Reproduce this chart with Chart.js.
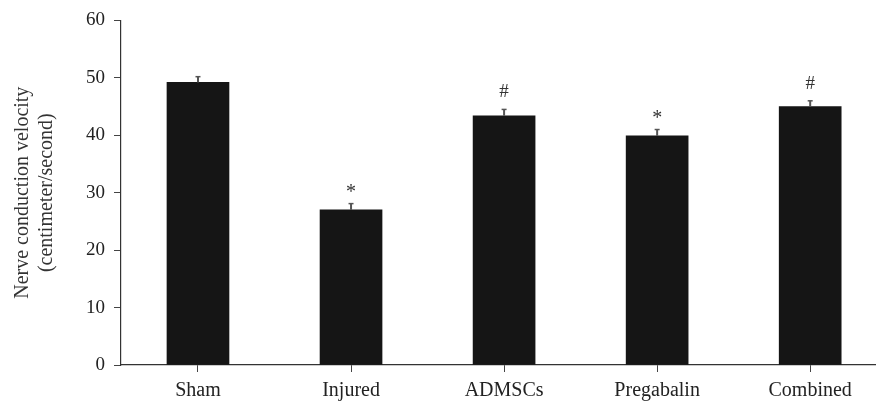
<!DOCTYPE html>
<html>
<head>
<meta charset="utf-8">
<script src="https://cdn.jsdelivr.net/npm/chart.js@4"></script>
<style>
  html, body { margin: 0; padding: 0; background: #fff; }
  #wrap { width: 876px; height: 402px; }
</style>
</head>
<body>
<div id="wrap"><canvas id="ncv"></canvas></div>
<script>
var groups = ["Sham", "Injured", "ADMSCs", "Pregabalin", "Combined"];
var velocity = [49.2, 27.0, 43.4, 39.9, 45.0];
var velocityErr = [1.0, 1.1, 1.1, 1.1, 1.0];
var marks = ["", "*", "#", "*", "#"];
var yTicks = [0, 10, 20, 30, 40, 50, 60];

var points = [];
for (var i = 0; i < groups.length; i++) {
  points.push({ x: i, y: velocity[i] });
}

var fontFam = "'Liberation Serif', 'DejaVu Serif', serif";

// upward error bars plus significance marks
var errorBars = {
  id: 'errorBars',
  afterDatasetsDraw: function(chart) {
    var ctx = chart.ctx;
    var y = chart.scales.y;
    var meta = chart.getDatasetMeta(0);
    ctx.save();
    for (var i = 0; i < meta.data.length; i++) {
      var bar = meta.data[i];
      var top = y.getPixelForValue(velocity[i] + velocityErr[i]);
      ctx.strokeStyle = '#555';
      ctx.lineWidth = 2;
      ctx.beginPath();
      ctx.moveTo(bar.x, bar.y);
      ctx.lineTo(bar.x, top);
      ctx.stroke();
      ctx.lineWidth = 1.5;
      ctx.beginPath();
      ctx.moveTo(bar.x - 2.5, top);
      ctx.lineTo(bar.x + 2.5, top);
      ctx.stroke();
      if (marks[i]) {
        ctx.fillStyle = '#333';
        ctx.font = (marks[i] === '*' ? '20px ' : '19px ') + fontFam;
        ctx.textAlign = 'center';
        ctx.textBaseline = 'alphabetic';
        ctx.fillText(marks[i], bar.x, top - (marks[i] === '*' ? 6 : 12));
      }
    }
    ctx.restore();
  }
};

var ctx = document.getElementById('ncv').getContext('2d');
var chart = new Chart(ctx, {
  type: 'bar',
  data: {
    datasets: [{
      data: points,
      backgroundColor: '#151515',
      borderWidth: 0,
      barThickness: 62
    }]
  },
  options: {
    responsive: true,
    maintainAspectRatio: false,
    animation: false,
    layout: { padding: { top: 13, right: 0, left: 0, bottom: 0 } },
    plugins: {
      legend: { display: false },
      tooltip: { enabled: false }
    },
    scales: {
      x: {
        type: 'linear',
        offset: false,
        min: -0.503,
        max: 4.43,
        grid: { display: true, offset: false, drawOnChartArea: false, drawTicks: true, tickLength: 7, color: '#444' },
        border: { display: true, color: '#333', width: 1.2 },
        afterBuildTicks: function(scale) {
          scale.ticks = groups.map(function(g, i) { return { value: i }; });
        },
        ticks: {
          color: '#222',
          font: { family: fontFam, size: 20 },
          padding: 7,
          maxRotation: 0,
          autoSkip: false,
          callback: function(v) { return groups[v]; }
        },
        afterFit: function(scale) { scale.height = 37; }
      },
      y: {
        min: 0,
        max: 60,
        afterBuildTicks: function(scale) {
          scale.ticks = yTicks.map(function(v) { return { value: v }; });
        },
        grid: { display: true, drawOnChartArea: false, drawTicks: true, tickLength: 7, color: '#444' },
        border: { display: true, color: '#333', width: 1.2 },
        ticks: {
          color: '#222',
          font: { family: fontFam, size: 19 },
          padding: 9
        },
        title: {
          display: true,
          text: ['Nerve conduction velocity', '(centimeter/second)'],
          color: '#333',
          font: { family: fontFam, size: 20 },
          padding: { top: 11, bottom: 0 }
        },
        afterFit: function(scale) { scale.width = 121; }
      }
    }
  },
  plugins: [errorBars]
});
</script>
</body>
</html>
